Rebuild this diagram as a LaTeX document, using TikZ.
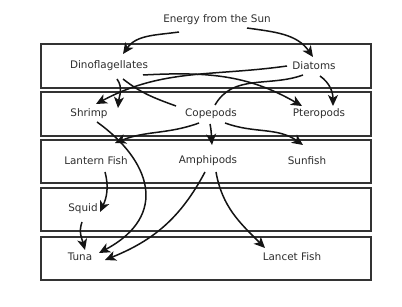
\documentclass[tikz,border=0pt]{standalone}
\usepackage{fontspec}
\setmainfont{DejaVu Sans}
\usetikzlibrary{arrows.meta}
\begin{document}
\begin{tikzpicture}[x=1pt,y=1pt,
  band/.style={draw=black!80,line width=1.3pt,fill=white},
  lbl/.style={font=\fontsize{10.4}{12}\selectfont,text=black!82,inner sep=1pt},
  link/.style={line width=1.5pt,black!92,-{Stealth[length=11pt,width=10pt,inset=3pt]}},
  plain/.style={line width=1.5pt,black!92}]
\useasboundingbox (0,0) rectangle (402,-307);
\fill[white] (0,0) rectangle (402,-307);
% bands
\draw[band] (41,-44) rectangle (371,-88);
\draw[band] (41,-92) rectangle (371,-136);
\draw[band] (41,-140) rectangle (371,-183);
\draw[band] (41,-188) rectangle (371,-231);
\draw[band] (41,-237) rectangle (371,-280);
% nodes
\node[lbl] (sun) at (217,-20) {Energy from the Sun};
\node[lbl] (dino) at (109,-66) {Dinoflagellates};
\node[lbl] (diatoms) at (314,-66) {Diatoms};
\node[lbl] (shrimp) at (89,-114) {Shrimp};
\node[lbl] (copepods) at (211,-114) {Copepods};
\node[lbl] (pteropods) at (319,-114) {Pteropods};
\node[lbl] (lantern) at (96,-161) {Lantern Fish};
\node[lbl] (amphipods) at (208,-161) {Amphipods};
\node[lbl] (sunfish) at (307,-161) {Sunfish};
\node[lbl] (squid) at (83,-209) {Squid};
\node[lbl] (tuna) at (80,-257) {Tuna};
\node[lbl] (lancet) at (292,-257) {Lancet Fish};
% connectors
\draw[link] ([shift={(-38,-12)}]sun.center) to[out=188,in=55] ([shift={(14,12)}]dino.center);
\draw[link] ([shift={(30,-8)}]sun.center) to[out=-8,in=125] ([shift={(-1,9)}]diatoms.center);
\draw[link] ([shift={(-27,0)}]diatoms.center) to[out=188,in=28] ([shift={(7,10)}]shrimp.center);
\draw[link] ([shift={(8,-13)}]dino.center) to[out=-55,in=85] ([shift={(29,6)}]shrimp.center);
\draw[plain] ([shift={(14,-13)}]dino.center) to[out=-38,in=160] ([shift={(-35,8)}]copepods.center);
\draw[link] ([shift={(34,-9)}]dino.center) to[out=3,in=150] ([shift={(-17,8)}]pteropods.center);
\draw[plain] ([shift={(-11,-9)}]diatoms.center) to[out=200,in=60] ([shift={(4,9)}]copepods.center);
\draw[link] ([shift={(6,-10)}]diatoms.center) to[out=-35,in=90] ([shift={(14,8)}]pteropods.center);
\draw[link] ([shift={(8,-8)}]shrimp.center) .. controls +(53,-38) and +(71,38) .. ([shift={(19,4)}]tuna.center);
\draw[link] ([shift={(-12,-9)}]copepods.center) to[out=200,in=22] ([shift={(19,18)}]lantern.center);
\draw[link] ([shift={(-1,-10)}]copepods.center) to[out=-78,in=95] ([shift={(4,16)}]amphipods.center);
\draw[link] ([shift={(14,-9)}]copepods.center) to[out=-20,in=145] ([shift={(-4,16)}]sunfish.center);
\draw[link] ([shift={(9,-11)}]lantern.center) to[out=-75,in=65] ([shift={(17,-3)}]squid.center);
\draw[link] ([shift={(-1,-13)}]squid.center) to[out=-110,in=105] ([shift={(5,7)}]tuna.center);
\draw[link] ([shift={(-3,-11)}]amphipods.center) to[out=-118,in=22] ([shift={(25,-3)}]tuna.center);
\draw[link] ([shift={(8,-11)}]amphipods.center) to[out=-80,in=135] ([shift={(-27,9)}]lancet.center);
\end{tikzpicture}
\end{document}
